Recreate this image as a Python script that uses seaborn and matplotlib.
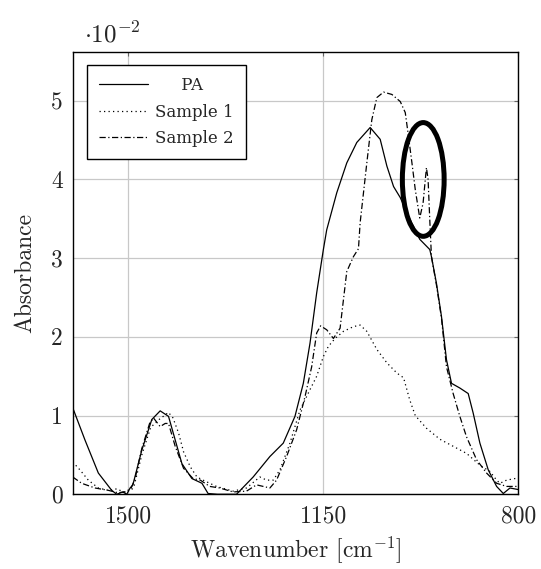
import numpy as np
import pandas as pd
import matplotlib
matplotlib.use("Agg")
import matplotlib.pyplot as plt
import seaborn as sns
from matplotlib.patches import Ellipse

# ---- data (absorbance in units of 1e-2) ----
pa_wn = [1600, 1578, 1554, 1530, 1521, 1510, 1503, 1497, 1492, 1476, 1458, 1443, 1428,
         1416, 1404, 1386, 1368, 1357, 1340, 1306, 1276, 1246, 1222, 1201, 1186, 1174,
         1162, 1150, 1144, 1126, 1108, 1090, 1066, 1048, 1036, 1024, 1012, 995, 977,
         959, 956, 947, 938, 929, 920, 905, 890, 881, 869, 854, 839, 827, 815, 800]
pa_abs = [1.10, 0.69, 0.27, 0.05, 0.00, 0.03, 0.00, 0.08, 0.12, 0.56, 0.95, 1.06, 0.99,
          0.69, 0.39, 0.20, 0.14, 0.01, 0.00, 0.00, 0.22, 0.48, 0.65, 0.99, 1.41, 1.92,
          2.56, 3.11, 3.36, 3.83, 4.21, 4.47, 4.66, 4.51, 4.17, 3.91, 3.77, 3.50, 3.24,
          3.11, 3.02, 2.68, 2.26, 1.71, 1.41, 1.35, 1.28, 1.03, 0.65, 0.31, 0.10, 0.01, 0.08, 0.06]

s1_wn = [1600, 1587, 1572, 1554, 1536, 1520, 1510, 1495, 1490, 1476, 1460, 1445, 1428,
         1420, 1410, 1401, 1389, 1377, 1366, 1342, 1312, 1288, 1264, 1252, 1240, 1228,
         1210, 1192, 1174, 1162, 1150, 1141, 1129, 1114, 1096, 1084, 1072, 1054, 1036,
         1018, 1006, 995, 985, 965, 941, 917, 893, 869, 851, 839, 833, 821, 806, 800]
s1_abs = [0.41, 0.31, 0.18, 0.08, 0.05, 0.07, 0.03, 0.05, 0.10, 0.50, 0.85, 0.95, 1.04,
          0.97, 0.78, 0.54, 0.35, 0.22, 0.18, 0.10, 0.04, 0.08, 0.22, 0.18, 0.18, 0.31,
          0.65, 1.07, 1.33, 1.50, 1.75, 1.88, 1.98, 2.07, 2.13, 2.15, 2.07, 1.84, 1.67,
          1.54, 1.48, 1.20, 1.00, 0.84, 0.70, 0.61, 0.52, 0.37, 0.29, 0.18, 0.14, 0.18, 0.20, 0.20]

s2_wn = [1600, 1584, 1560, 1536, 1519, 1505, 1495, 1488, 1476, 1462, 1455, 1443, 1434,
         1428, 1416, 1401, 1384, 1371, 1354, 1336, 1312, 1288, 1270, 1258, 1246, 1234,
         1216, 1198, 1183, 1171, 1162, 1155, 1144, 1132, 1120, 1114, 1108, 1096, 1087,
         1084, 1072, 1063, 1054, 1042, 1027, 1012, 1003, 998, 991, 985, 977, 971, 965,
         962, 959, 956, 947, 938, 929, 917, 905, 893, 875, 857, 839, 821, 800]
s2_abs = [0.22, 0.14, 0.08, 0.05, 0.02, 0.03, 0.08, 0.20, 0.58, 0.90, 0.97, 0.86, 0.90,
          0.90, 0.61, 0.33, 0.20, 0.18, 0.10, 0.08, 0.03, 0.04, 0.12, 0.10, 0.08, 0.18,
          0.48, 0.82, 1.24, 1.62, 2.05, 2.14, 2.09, 1.98, 2.11, 2.47, 2.83, 3.02, 3.12,
          3.45, 4.21, 4.76, 5.04, 5.11, 5.08, 4.99, 4.85, 4.59, 4.21, 3.87, 3.51, 3.70, 4.15,
          4.00, 3.49, 3.02, 2.66, 2.24, 1.62, 1.28, 0.99, 0.73, 0.44, 0.27, 0.14, 0.10, 0.10]

series_names = ["PA", "Sample 1", "Sample 2"]
x_ticks = [1500, 1150, 800]
y_ticks = [0, 1, 2, 3, 4, 5]
highlight_center = (970.7, 4.0)   # wavenumber, absorbance (1e-2)
highlight_size = (75, 1.445)

df = pd.concat([
    pd.DataFrame({"wn": pa_wn, "abs": pa_abs, "sample": series_names[0]}),
    pd.DataFrame({"wn": s1_wn, "abs": s1_abs, "sample": series_names[1]}),
    pd.DataFrame({"wn": s2_wn, "abs": s2_abs, "sample": series_names[2]}),
], ignore_index=True)

sns.set_style("white")
plt.rcParams["font.family"] = ["cmr10"]
plt.rcParams["mathtext.fontset"] = "cm"
plt.rcParams["axes.formatter.use_mathtext"] = True

fig = plt.figure(figsize=(5.41, 5.69), dpi=100)
ax = fig.add_axes([0.1344, 0.1313, 0.8237, 0.7774])

sns.lineplot(data=df, x="wn", y="abs", hue="sample", style="sample",
             palette={n: "black" for n in series_names},
             dashes={"PA": "", "Sample 1": (1, 2.6), "Sample 2": (5, 2, 1, 2)},
             estimator=None, sort=False, linewidth=0.9, ax=ax)

ax.set_xlim(1600, 800)
ax.set_ylim(0, 5.62)
ax.set_xticks(x_ticks)
ax.set_yticks(y_ticks)
ax.set_xticklabels([str(v) for v in x_ticks])
ax.set_yticklabels([str(v) for v in y_ticks])
ax.grid(True, color="#c8c8c8", linewidth=0.9)
ax.set_axisbelow(True)
for s in ax.spines.values():
    s.set_color("black")
    s.set_linewidth(1.0)
ax.tick_params(axis="both", direction="in", length=3, width=0.8, color="#666666",
               labelsize=17, top=True, right=True)
ax.tick_params(axis="x", pad=8)
ax.tick_params(axis="y", pad=7)

ax.set_xlabel(r"Wavenumber [cm$^{-1}$]", fontsize=17, labelpad=5)
ax.set_ylabel("Absorbance", fontsize=17, labelpad=11)

ax.add_patch(Ellipse(highlight_center, width=highlight_size[0], height=highlight_size[1],
                     fill=False, edgecolor="black", linewidth=3.6, zorder=5))

handles, labels = ax.get_legend_handles_labels()
leg = ax.legend(handles, ["     PA", "Sample 1", "Sample 2"], loc="upper left",
                bbox_to_anchor=(0.031, 0.971), borderaxespad=0, fancybox=False,
                framealpha=1, edgecolor="black",
                prop={"family": "DejaVu Serif", "size": 12},
                handlelength=2.95, labelspacing=0.56, handletextpad=0.42,
                borderpad=0.75)
leg.get_frame().set_linewidth(1.0)

fig.text(84 / 541, 1 - 42 / 569, r"$\cdot10^{-2}$", fontsize=18, va="baseline", ha="left")

fig.savefig("out.png", dpi=100)
